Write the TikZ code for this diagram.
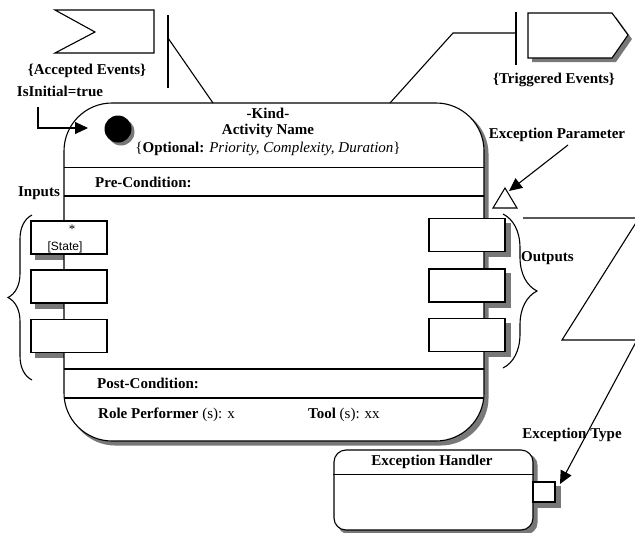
\documentclass[tikz,border=0pt]{standalone}
\usepackage{fontspec}
\setmainfont{Liberation Serif}
\newfontfamily\smallsans{Liberation Sans}
\usetikzlibrary{arrows.meta,decorations.pathreplacing,backgrounds}
\definecolor{shadowc}{RGB}{120,120,120}
\newcommand\mkshadow[3]{\fill[shadowc,rounded corners=#2] ([shift={(#3,#3)}]#1.north west) rectangle ([shift={(#3,#3)}]#1.south east);}
\begin{document}
\begin{tikzpicture}[x=1pt,y=-1pt,
  ln/.style={line width=1.1pt},
  thk/.style={line width=2pt},
  iobox/.style={draw,line width=1.5pt,fill=white,minimum width=76pt,minimum height=33pt,inner sep=0pt},
  lbl/.style={font=\fontsize{15}{17}\selectfont\bfseries,inner sep=0pt},
  txt/.style={font=\fontsize{15}{17}\selectfont,inner sep=0pt},
  arr/.style={ln,-{Triangle[length=13pt,width=12pt]}},
  brc/.style={ln,decorate,decoration={brace,aspect=0.5}}
]
\useasboundingbox (0,0) rectangle (635,533);

% accepted events flag
\draw[ln] (55,10) -- (154,10) -- (154,53) -- (55,53) -- (95,32) -- cycle;
\coordinate (accbarT) at (168,15);
\coordinate (accbarB) at (168,88);
\draw[ln] (accbarT) -- (accbarB);
\node[lbl] (acc) at (87,71) {\{Accepted Events\}};
\node[lbl] (isinit) at (60,91) {IsInitial=true};

% triggered events
\fill[shadowc] (532,17) -- (616,17) -- (632,39) -- (616,62) -- (532,62) -- cycle;
\draw[ln,fill=white] (528,13) -- (612,13) -- (628,35) -- (612,58) -- (528,58) -- cycle;
\coordinate (trgbarT) at (516,12);
\coordinate (trgbarB) at (516,65);
\draw[ln] (trgbarT) -- (trgbarB);
\node[lbl] (trg) at (554,80) {\{Triggered Events\}};

% main activity box
\node[draw,ln,fill=white,rounded corners=48pt,minimum width=420pt,minimum height=338pt,inner sep=0pt] (main) at (274,272) {};
\begin{scope}
  \clip[rounded corners=48pt] (64,103) rectangle (484,441);
  \draw[line width=1pt] (0,167) -- (635,167);
  \draw[thk] (0,196) -- (635,196);
  \draw[thk] (0,369) -- (635,369);
  \draw[thk] (0,398) -- (635,398);
\end{scope}

% connectors from event bars to main box
\coordinate (accc) at (168,38);
\coordinate (maintopL) at (213,103);
\draw[ln] (accc) -- (maintopL);
\coordinate (trgc) at (516,33);
\coordinate (trgk) at (453,33);
\coordinate (maintopR) at (390,103);
\draw[ln] (trgc) -- (trgk) -- (maintopR);

% initial node
\fill[shadowc] (121,132) circle (13.5pt);
\node[circle,fill=black,minimum size=27pt,inner sep=0pt] (init) at (118,129) {};
\coordinate (iistart) at (38,107);
\coordinate (iitip) at (88,128);
\draw[arr] (iistart) |- (iitip);

% titles
\node[lbl] (kind) at (268,113) {-Kind-};
\node[lbl] (aname) at (268,131) {Activity Name};
\node[txt] (opt) at (268,149) {\{\textbf{Optional:} \textit{Priority, Complexity, Duration}\}};
\node[lbl,anchor=west] (pre) at (95,182) {Pre-Condition:};
\node[lbl,anchor=west] (post) at (97,383) {Post-Condition:};
\node[txt,anchor=west] (role) at (98,415) {\textbf{Role Performer} (s): x};
\node[txt,anchor=west] (tool) at (308,415) {\textbf{Tool} (s): xx};

% inputs
\node[lbl] (inputs) at (39,193) {Inputs};
\node[iobox] (in1) at (69,237.5) {};
\node[iobox] (in2) at (69,286.5) {};
\node[iobox] (in3) at (69,336) {};
\node[font=\fontsize{13}{13}\selectfont,inner sep=0pt] (star) at (72,229) {*};
\node[font=\smallsans\fontsize{12}{13}\selectfont,inner sep=0pt] (state) at (65,247) {[State]};
\coordinate (lbB) at (32,380);
\coordinate (lbT) at (32,215);
\draw[brc,decoration={amplitude=24pt}] (lbB) -- (lbT);

% outputs
\node[iobox] (out1) at (467,235) {};
\node[iobox] (out2) at (467,285.5) {};
\node[iobox] (out3) at (467,335) {};
\coordinate (rbT) at (503,214);
\coordinate (rbB) at (503,368);
\draw[brc,decoration={amplitude=34pt}] (rbT) -- (rbB);
\node[lbl,anchor=west] (outputs) at (521,258) {Outputs};

% exception parameter
\coordinate (triA) at (505,188);
\coordinate (triL) at (493,208);
\coordinate (triR) at (517,208);
\draw[ln,fill=white] (triA) -- (triR) -- (triL) -- cycle;
\node[lbl] (expar) at (557,135) {Exception Parameter};
\coordinate (exparS) at (568,145);
\coordinate (exparT) at (509,191);
\draw[arr] (exparS) -- (exparT);

% exception handler
\node[draw,ln,fill=white,rounded corners=12pt,minimum width=199pt,minimum height=80pt,inner sep=0pt] (handler) at (433.5,490) {};
\draw[line width=1pt] (handler.west |- 0,474) -- (handler.east |- 0,474);
\node[lbl] (hlabel) at (432,462) {Exception Handler};
\node[draw,line width=1.5pt,fill=white,minimum width=22pt,minimum height=20pt,inner sep=0pt] (port) at (544,492) {};
\node[lbl] (extype) at (572,435) {Exception Type};

% lightning connector
\coordinate (z0) at (523,218);
\coordinate (z1) at (639,218);
\coordinate (z2) at (562,340);
\coordinate (z3) at (637,340);
\coordinate (ztip) at (560,484);
\draw[arr] (z0) -- (z1) -- (z2) -- (z3) -- (ztip);

% background and shadows
\begin{scope}[on background layer]
  \fill[white] (0,0) rectangle (635,533);
  \mkshadow{main}{48pt}{4}
  \mkshadow{handler}{12pt}{4}
  \mkshadow{port}{0pt}{5}
  \mkshadow{in1}{0pt}{5}
  \mkshadow{in2}{0pt}{5}
  \mkshadow{in3}{0pt}{5}
  \mkshadow{out1}{0pt}{5}
  \mkshadow{out2}{0pt}{5}
  \mkshadow{out3}{0pt}{5}
\end{scope}
\end{tikzpicture}
\end{document}
